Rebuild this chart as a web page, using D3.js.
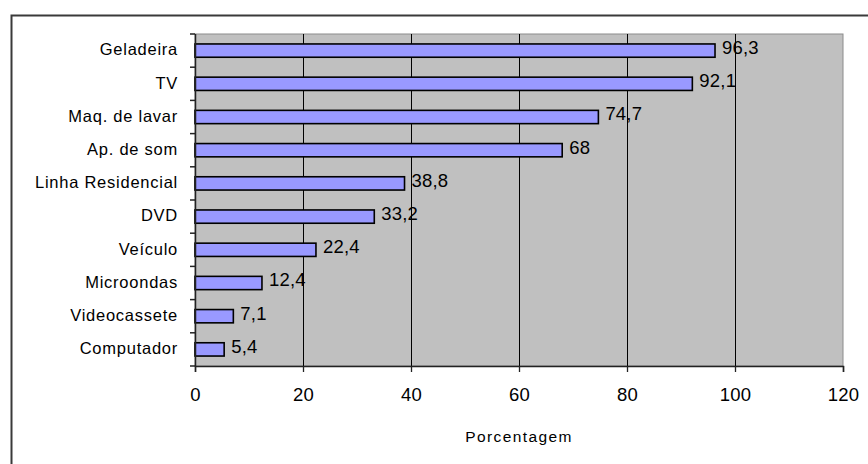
<!DOCTYPE html>
<html>
<head>
<meta charset="utf-8">
<script src="https://cdn.jsdelivr.net/npm/d3@7"></script>
<style>
  html, body { margin: 0; padding: 0; background: #fff; }
  svg { display: block; }
  text { font-family: Arial, "Liberation Sans", sans-serif; fill: #000; }
</style>
</head>
<body>
<svg id="chart" width="868" height="464"></svg>
<script>
// Posse de bens duráveis (%)
const categories = ["Geladeira", "TV", "Maq. de lavar", "Ap. de som", "Linha Residencial",
                    "DVD", "Veículo", "Microondas", "Videocassete", "Computador"];
const values = [96.3, 92.1, 74.7, 68, 38.8, 33.2, 22.4, 12.4, 7.1, 5.4];
const xTicks = [0, 20, 40, 60, 80, 100, 120];
const xTitle = "Porcentagem";

const svg = d3.select("#chart");
const plot = { left: 195, top: 34, right: 843, bottom: 366 };

// Chart area frame
svg.append("rect")
  .attr("x", 11.5).attr("y", 15.5)
  .attr("width", 880).attr("height", 480)
  .attr("fill", "#fff").attr("stroke", "#3a3a3a").attr("stroke-width", 2);

const x = d3.scaleLinear().domain([0, 120]).range([plot.left, plot.right]);
const y = d3.scaleBand().domain(categories).range([plot.top, plot.bottom])
  .paddingInner(0.6).paddingOuter(0.3);
const yEdge = d3.scaleBand().domain(categories).range([plot.top, plot.bottom]);

// Plot area
svg.append("rect")
  .attr("x", plot.left).attr("y", plot.top)
  .attr("width", plot.right - plot.left).attr("height", plot.bottom - plot.top)
  .attr("fill", "#c0c0c0").attr("stroke", "#8c8c8c").attr("stroke-width", 1);

// Vertical gridlines
svg.append("g").selectAll("line")
  .data(xTicks.filter(t => t > 0 && t < 120))
  .join("line")
  .attr("x1", d => Math.round(x(d)) + 0.5).attr("x2", d => Math.round(x(d)) + 0.5)
  .attr("y1", plot.top).attr("y2", plot.bottom)
  .attr("stroke", "#000").attr("stroke-width", 1);

// Bars
svg.append("g").selectAll("rect")
  .data(values)
  .join("rect")
  .attr("x", x(0))
  .attr("y", (d, i) => y(categories[i]))
  .attr("width", d => x(d) - x(0))
  .attr("height", y.bandwidth())
  .attr("fill", "#9999ff")
  .attr("stroke", "#000")
  .attr("stroke-width", 1.6);

// Value labels
svg.append("g").selectAll("text")
  .data(values)
  .join("text")
  .attr("x", d => x(d) + 7)
  .attr("y", (d, i) => y(categories[i]) + y.bandwidth() / 2 - 3)
  .attr("dy", "0.35em")
  .attr("font-size", 18.5)
  .attr("letter-spacing", 0.2)
  .text(d => String(d).replace(".", ","));

// Category axis
const yAxis = svg.append("g");
yAxis.append("line")
  .attr("x1", plot.left + 0.5).attr("x2", plot.left + 0.5)
  .attr("y1", plot.top).attr("y2", plot.bottom)
  .attr("stroke", "#222").attr("stroke-width", 1.5);
yAxis.selectAll("line.tick")
  .data(categories.concat([null]))
  .join("line").attr("class", "tick")
  .attr("x1", plot.left - 5).attr("x2", plot.left)
  .attr("y1", (d, i) => plot.top + i * yEdge.step())
  .attr("y2", (d, i) => plot.top + i * yEdge.step())
  .attr("stroke", "#222").attr("stroke-width", 1.5);
yAxis.selectAll("text")
  .data(categories)
  .join("text")
  .attr("x", plot.left - 17)
  .attr("y", d => yEdge(d) + yEdge.bandwidth() / 2 - 1)
  .attr("dy", "0.35em")
  .attr("text-anchor", "end")
  .attr("font-size", 16.5)
  .attr("letter-spacing", 0.75)
  .text(d => d);

// Value axis
const xAxis = svg.append("g")
  .attr("transform", `translate(0,${plot.bottom})`)
  .call(d3.axisBottom(x).tickValues(xTicks).tickSize(6).tickPadding(16).tickFormat(d3.format("d")));
xAxis.select(".domain").attr("stroke", "#222").attr("stroke-width", 1.5);
xAxis.selectAll(".tick line").attr("stroke", "#222").attr("stroke-width", 1.3);
xAxis.selectAll(".tick text")
  .attr("font-family", "Arial, 'Liberation Sans', sans-serif")
  .attr("font-size", 18.5)
  .attr("letter-spacing", 0.2)
  .attr("fill", "#000");

// Axis title
svg.append("text")
  .attr("x", (plot.left + plot.right) / 2)
  .attr("y", 437)
  .attr("dy", "0.35em")
  .attr("text-anchor", "middle")
  .attr("font-size", 15.5)
  .attr("letter-spacing", 1.4)
  .text(xTitle);
</script>
</body>
</html>
